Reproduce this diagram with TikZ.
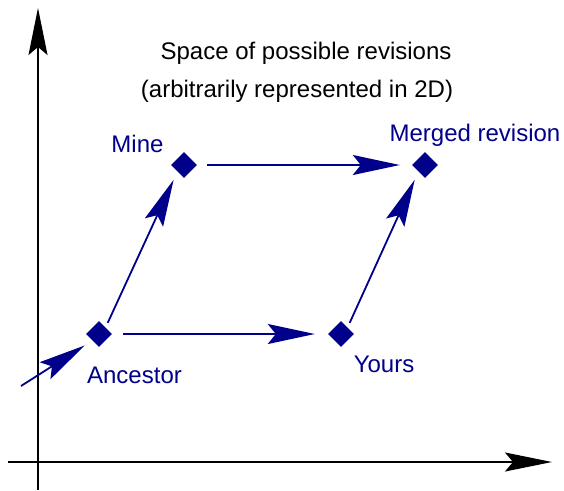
\documentclass[tikz,border=0pt]{standalone}
\usepackage{fontspec}
\setmainfont{Liberation Sans}
\usetikzlibrary{arrows.meta,shapes.geometric,positioning}
\definecolor{revblue}{RGB}{0,0,139}

\begin{document}
\begin{tikzpicture}[x=1pt,y=-1pt,
  every node/.style={font=\fontsize{24}{28}\selectfont,inner sep=0pt},
  rev/.style={diamond,fill=revblue,minimum width=26pt,minimum height=26pt},
  revlabel/.style={text=revblue,anchor=base},
  axis/.style={line width=1.8pt,-{Stealth[length=47pt,width=19pt,inset=8pt]}},
  move/.style={revblue,line width=1.8pt,-{Stealth[length=47pt,width=20pt,inset=8pt]}},
]
\useasboundingbox (0,0) rectangle (564,490);

% the axes
\coordinate (ybot) at (38,490);
\coordinate (ytop) at (38,8);
\coordinate (xleft) at (8,462);
\coordinate (xright) at (552,462);
\draw[axis] (ybot) -- (ytop);
\draw[axis] (xleft) -- (xright);

% the title
\node[anchor=base] (title) at (306,59) {Space of possible revisions};
\node[anchor=base] (subtitle) at (297,97) {(arbitrarily represented in 2D)};

% the revisions
\node[rev] (anc) at (99,334) {};
\node[rev] (mine) at (184,165) {};
\node[rev] (yours) at (341,334) {};
\node[rev] (merged) at (425,165) {};

\node[revlabel] (ancl) at (134.5,383) {Ancestor};
\node[revlabel] (minel) at (137.5,152) {Mine};
\node[revlabel] (yoursl) at (384,372) {Yours};
\node[revlabel] (mergedl) at (475,141) {Merged revision};

% the moves
\coordinate (in) at (21,386);
\draw[move,shorten >=9pt] (in) -- (anc.south west);
\draw[move,shorten <=5pt,shorten >=9pt] (anc.north east) -- (mine.south west);
\draw[move,shorten <=11pt,shorten >=13pt] (anc.east) -- (yours.west);
\draw[move,shorten <=10pt,shorten >=12pt] (mine.east) -- (merged.west);
\draw[move,shorten <=5pt,shorten >=9pt] (yours.north east) -- (merged.south west);
\end{tikzpicture}
\end{document}
